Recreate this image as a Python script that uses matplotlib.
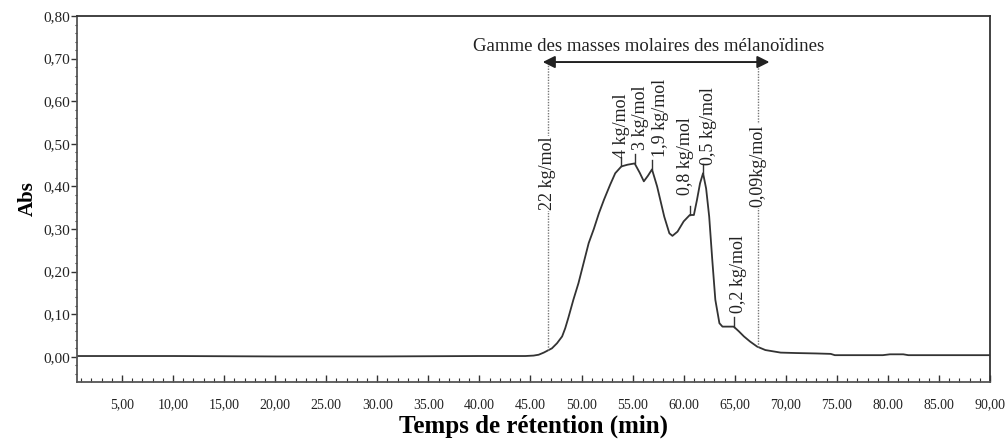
import matplotlib
matplotlib.use("Agg")
import matplotlib.pyplot as plt
from matplotlib.ticker import MultipleLocator, FixedLocator, FixedFormatter

plt.rcParams['font.family'] = ['Liberation Serif', 'DejaVu Serif']

# chromatogram trace (retention time in min, absorbance)
time = [0.6, 10.0, 20.0, 30.0, 40.0, 44.5, 45.3, 45.8, 46.3, 46.7, 47.1, 47.6, 48.1, 48.4,
        48.7, 49.2, 49.7, 50.2, 50.7, 51.2, 51.7, 52.2, 52.8, 53.3, 53.9, 54.5, 55.2,
        55.7, 56.1, 56.5, 56.9, 57.4, 58.1, 58.6, 58.9, 59.4, 60.0, 60.6, 61.0, 61.3,
        61.6, 61.9, 62.2, 62.5, 62.8, 63.1, 63.5, 63.8, 64.9, 65.4, 65.9, 66.5, 67.2,
        68.0, 69.5, 71.0, 73.0, 74.4, 74.8, 77.0, 79.5, 80.2, 81.5, 82.0, 85.0, 90.0]
absorbance = [0.002, 0.002, 0.001, 0.001, 0.002, 0.002, 0.003, 0.005, 0.010, 0.015, 0.020,
              0.032, 0.048, 0.067, 0.091, 0.134, 0.173, 0.220, 0.267, 0.300, 0.337, 0.369,
              0.404, 0.431, 0.447, 0.451, 0.454, 0.432, 0.412, 0.425, 0.440, 0.400, 0.329,
              0.290, 0.284, 0.294, 0.318, 0.333, 0.333, 0.368, 0.407, 0.431, 0.395, 0.329,
              0.228, 0.134, 0.079, 0.071, 0.071, 0.060, 0.048, 0.036, 0.024, 0.016, 0.010,
              0.009, 0.008, 0.007, 0.004, 0.004, 0.004, 0.006, 0.006, 0.004, 0.004, 0.004]

# molar mass markers on the peaks
peak_time = [53.9, 55.2, 56.9, 60.6, 61.9, 64.9]
peak_abs = [0.447, 0.454, 0.440, 0.333, 0.431, 0.071]
peak_labels = ['4 kg/mol', '3 kg/mol', '1,9 kg/mol', '0,8 kg/mol', '0,5 kg/mol', '0,2 kg/mol']
label_time = [53.9, 55.8, 57.7, 60.2, 62.45, 65.4]
label_abs = [0.467, 0.486, 0.470, 0.380, 0.450, 0.103]

# limits of the melanoidin range
range_time = [46.7, 67.25]
range_abs = [0.015, 0.024]
range_labels = ['22 kg/mol', '0,09kg/mol']
range_label_abs = [0.345, 0.352]

y_ticks = [0.0, 0.1, 0.2, 0.3, 0.4, 0.5, 0.6, 0.7, 0.8]
y_labels = ['0,00', '0,10', '0,20', '0,30', '0,40', '0,50', '0,60', '0,70', '0,80']
x_ticks = [5, 10, 15, 20, 25, 30, 35, 40, 45, 50, 55, 60, 65, 70, 75, 80, 85, 90]
x_labels = ['5,00', '10,00', '15,00', '20,00', '25.00', '30.00', '35.00', '40.00', '45.00',
            '50.00', '55.00', '60.00', '65,00', '70,00', '75.00', '80.00', '85.00', '90,00']

ink = '#333333'

fig = plt.figure(figsize=(10.08, 4.40), dpi=100)
ax = fig.add_axes([0.0764, 0.1318, 0.9058, 0.8318])

ax.plot(time, absorbance, color=ink, lw=1.3)

for t, a in zip(peak_time, peak_abs):
    ax.plot([t, t], [a, a + 0.022], color=ink, lw=1.0)
for t, a, lab in zip(label_time, label_abs, peak_labels):
    ax.text(t, a, lab, rotation=90, ha='center', va='bottom', fontsize=13, color='#222222')

for t, a, lab, la in zip(range_time, range_abs, range_labels, range_label_abs):
    ax.plot([t, t], [a, 0.685], color='#777777', lw=1.0, ls=(0, (1, 1)))
    ax.text(t, la, lab, rotation=90, ha='center', va='bottom', fontsize=13, color='#222222',
            bbox=dict(facecolor='white', edgecolor='none', pad=0.5))

ax.annotate('', xy=(46.2, 0.692), xytext=(68.4, 0.692),
            arrowprops=dict(arrowstyle='<|-|>', color='#222222', lw=1.4, mutation_scale=18,
                            shrinkA=0, shrinkB=0))
ax.text(56.6, 0.728, 'Gamme des masses molaires des mélanoïdines', ha='center', va='center',
        fontsize=13.5, color='#222222')

ax.set_xlim(0.6, 90)
ax.set_ylim(-0.059, 0.80)

ax.xaxis.set_major_locator(FixedLocator(x_ticks))
ax.xaxis.set_major_formatter(FixedFormatter(x_labels))
ax.xaxis.set_minor_locator(MultipleLocator(1))
ax.yaxis.set_major_locator(FixedLocator(y_ticks))
ax.yaxis.set_major_formatter(FixedFormatter(y_labels))
ax.yaxis.set_minor_locator(MultipleLocator(0.02))

ax.tick_params(axis='x', which='major', direction='in', length=5, width=1, color=ink,
               labelsize=10, pad=12, labelcolor='#222222')
ax.tick_params(axis='x', which='minor', direction='in', length=3, width=0.8, color=ink)
ax.tick_params(axis='y', which='major', direction='out', length=4, width=1, color=ink,
               labelsize=11, pad=1, labelcolor='#222222')
ax.tick_params(axis='y', which='minor', direction='out', length=1.5, width=0.8, color=ink)

for side in ['top', 'right']:
    ax.spines[side].set_color(ink)
    ax.spines[side].set_linewidth(1.3)
for side in ['left', 'bottom']:
    ax.spines[side].set_color('#555555')
    ax.spines[side].set_linewidth(1.3)
    ax.spines[side].set_linestyle((0, (2, 1)))

ax.set_xlabel('Temps de rétention (min)', fontsize=18, fontweight='bold', labelpad=2)
ax.set_ylabel('Abs', fontsize=15, fontweight='bold', labelpad=4)

fig.savefig('out.png', dpi=100)
